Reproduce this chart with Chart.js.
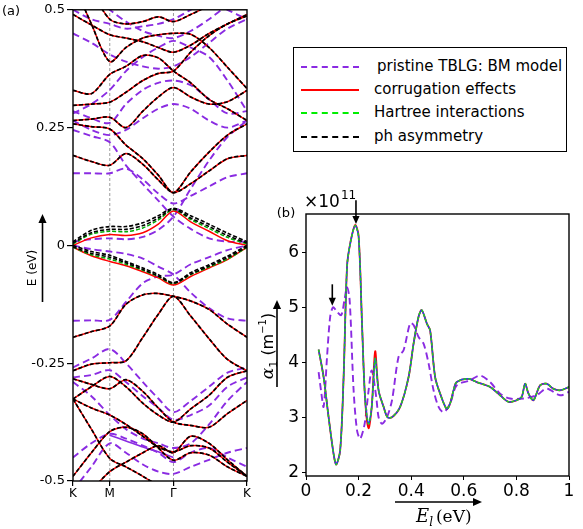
<!DOCTYPE html>
<html>
<head>
<meta charset="utf-8">
<script src="https://cdn.jsdelivr.net/npm/chart.js@4.4.0/dist/chart.umd.min.js"></script>
<style>
  body { margin: 0; background: #fff; width: 583px; height: 529px; position: relative; overflow: hidden; font-family: 'DejaVu Sans', sans-serif; }
  .box { position: absolute; }
  #legend { position: absolute; left: 293px; top: 47px; width: 272px; height: 103px; border: 1.5px solid #000; background: #fff; }
  .row { position: absolute; left: 0; height: 20px; font-size: 15px; color: #000; white-space: nowrap; }
  .row span.line { position: absolute; left: 7px; top: 10px; width: 58px; height: 0; }
  .row span.txt { position: absolute; left: 80px; top: 0; line-height: 20px; }
</style>
</head>
<body>
<div class="box" style="left:0;top:0;width:262px;height:529px"><canvas id="bands-chart"></canvas></div>
<div class="box" style="left:250px;top:180px;width:333px;height:349px"><canvas id="absorption-chart"></canvas></div>
<div id="legend">
  <div class="row" style="top:8px"><span class="line" style="border-top:2px dashed #8a2be2"></span><span class="txt" style="left:83px">pristine TBLG: BM model</span></div>
  <div class="row" style="top:31px"><span class="line" style="border-top:2px solid #ff0000"></span><span class="txt">corrugation effects</span></div>
  <div class="row" style="top:54px"><span class="line" style="border-top:2px dashed #00ee00"></span><span class="txt">Hartree interactions</span></div>
  <div class="row" style="top:78px"><span class="line" style="border-top:2px dashed #000"></span><span class="txt">ph asymmetry</span></div>
</div>
<script>
// ---- panel (a): band structure, energies (eV) sampled along K-M-Γ-K ----
const kPath = [0, 0.25, 0.5, 0.72, 0.95, 1.16, 1.366, 1.6, 1.85, 2.1, 2.366];
const kTicks = [0, 0.5, 1.366, 2.366];
const kLabels = ['K', 'M', 'Γ', 'K'];

// flat bands near zero (differ between models)
const blackFlatUpA = [0.008, 0.032, 0.040, 0.040, 0.048, 0.063, 0.079, 0.063, 0.045, 0.026, 0.008];
const blackFlatUpB = [0.005, 0.027, 0.034, 0.034, 0.042, 0.058, 0.077, 0.058, 0.040, 0.021, 0.005];
const greenFlatUp = [0.003, 0.024, 0.030, 0.029, 0.037, 0.054, 0.076, 0.055, 0.036, 0.017, 0.003];
const redFlatUp = [0.000, 0.016, 0.023, 0.021, 0.027, 0.045, 0.073, 0.050, 0.030, 0.010, 0.000];
const blackFlatDnA = [0.000, -0.013, -0.021, -0.034, -0.048, -0.062, -0.079, -0.058, -0.041, -0.023, 0.000];
const blackFlatDnB = [-0.003, -0.017, -0.025, -0.037, -0.051, -0.065, -0.080, -0.061, -0.044, -0.026, -0.003];
const greenFlatDn = [-0.004, -0.020, -0.029, -0.040, -0.053, -0.066, -0.081, -0.062, -0.046, -0.029, -0.004];
const redFlatDn = [-0.004, -0.022, -0.034, -0.043, -0.056, -0.069, -0.084, -0.066, -0.048, -0.030, -0.004];

// remote bands (corrugation / Hartree / ph asymmetry nearly coincide)
const bandC1 = [0.191, 0.178, 0.170, 0.195, 0.172, 0.139, 0.112, 0.131, 0.158, 0.184, 0.191];
const bandC2 = [0.258, 0.252, 0.247, 0.213, 0.184, 0.149, 0.112, 0.156, 0.198, 0.234, 0.258];
const bandD = [0.297, 0.300, 0.304, 0.325, 0.350, 0.365, 0.370, 0.410, 0.445, 0.470, 0.487];
const bandE = [0.329, 0.322, 0.363, 0.380, 0.403, 0.398, 0.370, 0.345, 0.310, 0.290, 0.265];
const bandF = [0.265, 0.268, 0.272, 0.250, 0.285, 0.315, 0.335, 0.315, 0.300, 0.305, 0.329];
const bandG = [0.490, 0.468, 0.447, 0.440, 0.432, 0.420, 0.410, 0.425, 0.450, 0.470, 0.490];
const bandH = [0.560, 0.470, 0.390, 0.420, 0.440, 0.447, 0.450, 0.448, 0.420, 0.378, 0.333];
const bandI = [0.600, 0.540, 0.480, 0.470, 0.475, 0.485, 0.475, 0.490, 0.510, 0.540, 0.560];
const bandV1 = [-0.195, -0.183, -0.171, -0.125, -0.105, -0.102, -0.108, -0.118, -0.136, -0.167, -0.195];
const bandV2 = [-0.266, -0.252, -0.249, -0.245, -0.195, -0.146, -0.108, -0.150, -0.198, -0.242, -0.266];
const bandV3 = [-0.283, -0.295, -0.304, -0.285, -0.310, -0.345, -0.375, -0.382, -0.386, -0.357, -0.329];
const bandV4 = [-0.326, -0.300, -0.278, -0.300, -0.335, -0.360, -0.375, -0.347, -0.318, -0.280, -0.266];
const bandV5 = [-0.326, -0.345, -0.360, -0.380, -0.405, -0.428, -0.438, -0.425, -0.430, -0.460, -0.490];
const bandV6 = [-0.326, -0.390, -0.452, -0.470, -0.490, -0.510, -0.530, -0.530, -0.520, -0.510, -0.500];
const bandV7 = [-0.490, -0.440, -0.395, -0.386, -0.400, -0.430, -0.456, -0.440, -0.445, -0.470, -0.490];
const bandV8 = [-0.560, -0.520, -0.480, -0.460, -0.440, -0.425, -0.440, -0.405, -0.420, -0.455, -0.490];

// pristine BM model bands
const bmF1 = [0.008, 0.013, 0.015, 0.013, 0.018, 0.033, 0.061, 0.120, 0.180, 0.230, 0.265];
const bmX1 = [0.245, 0.232, 0.219, 0.170, 0.130, 0.095, 0.061, 0.035, 0.015, 0.008, 0.008];
const bmF2 = [0.000, -0.008, -0.013, -0.018, -0.028, -0.045, -0.062, -0.100, -0.133, -0.155, -0.160];
const bmV1 = [-0.160, -0.159, -0.158, -0.120, -0.080, -0.066, -0.062, -0.040, -0.025, -0.010, 0.000];
const bmC1 = [0.153, 0.153, 0.153, 0.163, 0.140, 0.110, 0.089, 0.105, 0.125, 0.145, 0.153];
const bmU1 = [0.285, 0.270, 0.260, 0.300, 0.330, 0.345, 0.350, 0.340, 0.310, 0.280, 0.285];
const bmU2 = [0.265, 0.245, 0.234, 0.245, 0.270, 0.290, 0.300, 0.290, 0.265, 0.250, 0.265];
const bmU3 = [0.280, 0.300, 0.330, 0.370, 0.400, 0.420, 0.434, 0.420, 0.400, 0.350, 0.285];
const bmU4 = [0.450, 0.430, 0.405, 0.390, 0.380, 0.375, 0.380, 0.400, 0.430, 0.460, 0.480];
const bmU5 = [0.500, 0.480, 0.470, 0.460, 0.465, 0.470, 0.480, 0.500, 0.520, 0.500, 0.480];
const bmU6 = [0.560, 0.530, 0.500, 0.475, 0.455, 0.445, 0.440, 0.455, 0.480, 0.510, 0.540];
const bmL1 = [-0.259, -0.240, -0.220, -0.250, -0.290, -0.325, -0.354, -0.330, -0.300, -0.270, -0.259];
const bmL2 = [-0.280, -0.275, -0.265, -0.290, -0.320, -0.345, -0.370, -0.360, -0.340, -0.300, -0.280];
const bmL3 = [-0.290, -0.320, -0.360, -0.390, -0.410, -0.420, -0.430, -0.420, -0.380, -0.330, -0.290];
const bmL4 = [-0.450, -0.420, -0.400, -0.410, -0.425, -0.440, -0.460, -0.440, -0.430, -0.450, -0.470];
const bmL5 = [-0.520, -0.470, -0.420, -0.440, -0.465, -0.480, -0.485, -0.470, -0.455, -0.440, -0.430];
const bmSolid = [null, null, -0.403, -0.415, -0.428, -0.438, -0.450, null, null, null, null];

// ---- panel (b): absorption coefficient (x 10^11 m^-1) vs photon energy (eV) ----
const absE = [0.048, 0.067, 0.086, 0.105, 0.115, 0.13, 0.143, 0.156, 0.168, 0.187, 0.2, 0.213, 0.225, 0.238, 0.25, 0.263, 0.276, 0.295, 0.31, 0.327, 0.358, 0.39, 0.409, 0.428, 0.44, 0.46, 0.472, 0.491, 0.51, 0.535, 0.548, 0.561, 0.573, 0.618, 0.649, 0.7, 0.738, 0.77, 0.801, 0.82, 0.833, 0.846, 0.865, 0.89, 0.915, 0.94, 0.966, 1.0];
const absHartree = [4.23, 3.73, 3.0, 2.33, 2.14, 2.4, 3.73, 5.74, 6.16, 6.49, 6.29, 4.7, 3.31, 2.88, 3.19, 4.07, 3.49, 3.19, 3.0, 3.0, 3.19, 3.73, 4.34, 4.83, 4.95, 4.7, 4.58, 3.73, 3.43, 3.15, 3.25, 3.49, 3.64, 3.7, 3.64, 3.55, 3.4, 3.28, 3.31, 3.37, 3.61, 3.43, 3.31, 3.58, 3.61, 3.52, 3.49, 3.55];
const absCorr = [4.23, 3.73, 3.0, 2.33, 2.14, 2.4, 3.73, 5.74, 6.16, 6.5, 6.3, 4.7, 3.31, 2.8, 3.19, 4.2, 3.49, 3.19, 3.0, 3.0, 3.19, 3.73, 4.34, 4.83, 4.95, 4.7, 4.58, 3.73, 3.43, 3.15, 3.25, 3.49, 3.64, 3.7, 3.64, 3.55, 3.4, 3.28, 3.31, 3.37, 3.61, 3.43, 3.31, 3.58, 3.61, 3.52, 3.49, 3.55];
const bmE = [0.048, 0.057, 0.067, 0.08, 0.092, 0.103, 0.118, 0.134, 0.146, 0.156, 0.166, 0.181, 0.194, 0.206, 0.223, 0.238, 0.25, 0.267, 0.276, 0.289, 0.308, 0.327, 0.352, 0.371, 0.396, 0.409, 0.428, 0.447, 0.466, 0.485, 0.504, 0.523, 0.548, 0.573, 0.623, 0.662, 0.7, 0.738, 0.776, 0.827, 0.877, 0.915, 0.966, 1.0];
const absBM = [3.82, 3.49, 3.19, 4.1, 4.83, 5.0, 4.92, 4.86, 5.13, 5.37, 5.13, 3.49, 2.76, 2.61, 2.88, 3.49, 3.85, 3.37, 3.0, 2.88, 3.0, 3.31, 4.1, 4.22, 4.71, 4.68, 4.46, 4.34, 3.98, 3.49, 3.19, 3.09, 3.25, 3.58, 3.67, 3.76, 3.64, 3.43, 3.34, 3.34, 3.4, 3.52, 3.4, 3.46];
const arrowE = [0.1, 0.19];
const arrowFrom = [5.42, 6.95];
const arrowTo = [5.03, 6.52];

const PURPLE = '#8a2be2';
const FONT = "'DejaVu Sans', sans-serif";

document.addEventListener('DOMContentLoaded', function() {
    Chart.defaults.animation = false;
    drawBands();
    drawAbsorption();
});

function bandSet(band, color, width, dash, order) {
    return {
        data: kPath.map((k, i) => ({ x: k, y: band[i] })),
        borderColor: color,
        borderWidth: width,
        borderDash: dash,
        pointRadius: 0,
        tension: 0.3,
        fill: false,
        spanGaps: false,
        order: order
    };
}

function drawArrow(ctx, x1, y1, x2, y2, head) {
    const a = Math.atan2(y2 - y1, x2 - x1);
    ctx.save();
    ctx.strokeStyle = '#000';
    ctx.fillStyle = '#000';
    ctx.lineWidth = 1.6;
    ctx.beginPath();
    ctx.moveTo(x1, y1);
    ctx.lineTo(x2 - Math.cos(a) * head * 0.8, y2 - Math.sin(a) * head * 0.8);
    ctx.stroke();
    ctx.beginPath();
    ctx.moveTo(x2, y2);
    ctx.lineTo(x2 - head * Math.cos(a) + head * 0.45 * Math.sin(a), y2 - head * Math.sin(a) - head * 0.45 * Math.cos(a));
    ctx.lineTo(x2 - head * Math.cos(a) - head * 0.45 * Math.sin(a), y2 - head * Math.sin(a) + head * 0.45 * Math.cos(a));
    ctx.closePath();
    ctx.fill();
    ctx.restore();
}

const framePlugin = {
    id: 'frame',
    afterDatasetsDraw(chart) {
        const a = chart.chartArea;
        const ctx = chart.ctx;
        ctx.save();
        ctx.strokeStyle = '#000';
        ctx.lineWidth = 1.4;
        ctx.strokeRect(a.left, a.top, a.right - a.left, a.bottom - a.top);
        ctx.restore();
    }
};

function drawBands() {
    const datasets = [];
    // vertical guides at M and Γ
    [kTicks[1], kTicks[2]].forEach(k => {
        datasets.push({
            data: [{ x: k, y: -0.5 }, { x: k, y: 0.5 }],
            borderColor: '#9a9a9a', borderWidth: 1, borderDash: [3, 2],
            pointRadius: 0, order: 5
        });
    });
    [bmF1, bmX1, bmF2, bmV1, bmC1, bmU1, bmU2, bmU3, bmU4, bmU5, bmU6, bmL1, bmL2, bmL3, bmL4, bmL5].forEach(b => {
        datasets.push(bandSet(b, PURPLE, 1.9, [7, 4], 4));
    });
    datasets.push(bandSet(bmSolid, PURPLE, 1.6, [], 4));

    const remote = [bandC1, bandC2, bandD, bandE, bandF, bandG, bandH, bandI,
        bandV1, bandV2, bandV3, bandV4, bandV5, bandV6, bandV7, bandV8];
    remote.forEach(b => {
        datasets.push(bandSet(b, '#ff0000', 1.5, [], 2));
        datasets.push(bandSet(b, '#000000', 1.7, [4, 2], 0));
    });
    datasets.push(bandSet(redFlatUp, '#ff0000', 1.5, [], 2));
    datasets.push(bandSet(redFlatDn, '#ff0000', 1.5, [], 2));
    datasets.push(bandSet(greenFlatUp, '#00aa00', 1.5, [4, 2], 1));
    datasets.push(bandSet(greenFlatDn, '#00aa00', 1.5, [4, 2], 1));
    [blackFlatUpA, blackFlatUpB, blackFlatDnA, blackFlatDnB].forEach(b => {
        datasets.push(bandSet(b, '#000000', 1.6, [4, 2], 0));
    });

    const decor = {
        id: 'decorA',
        afterDraw(chart) {
            const ctx = chart.ctx;
            ctx.save();
            ctx.fillStyle = '#000';
            ctx.font = '13px ' + FONT;
            ctx.textAlign = 'center';
            ctx.textBaseline = 'middle';
            ctx.fillText('(a)', 11, 12);
            ctx.translate(33, 268);
            ctx.rotate(-Math.PI / 2);
            ctx.font = '12px ' + FONT;
            ctx.fillText('E (eV)', 0, 0);
            ctx.restore();
            drawArrow(ctx, 42.5, 302, 42.5, 214, 9);
        }
    };

    new Chart(document.getElementById('bands-chart'), {
        type: 'line',
        data: { datasets: datasets },
        options: {
            responsive: true,
            maintainAspectRatio: false,
            layout: { padding: { left: 0, top: 7, right: 15, bottom: 0 } },
            plugins: { legend: { display: false }, tooltip: { enabled: false } },
            scales: {
                x: {
                    type: 'linear', min: 0, max: kTicks[3],
                    afterBuildTicks: s => { s.ticks = kTicks.map(v => ({ value: v })); },
                    afterFit: s => { s.height = 48; },
                    ticks: {
                        autoSkip: false, maxRotation: 0, padding: 1, color: '#000',
                        font: { family: FONT, size: 12 },
                        callback: (v, i) => kLabels[i]
                    },
                    grid: { drawOnChartArea: false, drawTicks: true, tickLength: 5, color: '#000', lineWidth: 1.2 },
                    border: { display: false }
                },
                y: {
                    min: -0.5, max: 0.5,
                    afterFit: s => { s.width = 73; },
                    ticks: {
                        stepSize: 0.25, padding: 2, color: '#000',
                        font: { family: FONT, size: 13 },
                        callback: v => String(v)
                    },
                    grid: { drawOnChartArea: false, drawTicks: true, tickLength: 6, color: '#000', lineWidth: 1.2 },
                    border: { display: false }
                }
            }
        },
        plugins: [framePlugin, decor]
    });
}

function drawAbsorption() {
    const toPts = (xs, ys) => xs.map((x, i) => ({ x: x, y: ys[i] }));
    const lineSet = (pts, color, width, dash, order) => ({
        data: pts, borderColor: color, borderWidth: width, borderDash: dash,
        pointRadius: 0, tension: 0.3, fill: false, order: order
    });

    const decor = {
        id: 'decorB',
        afterDraw(chart) {
            const ctx = chart.ctx;
            const xs = chart.scales.x, ys = chart.scales.y;
            ctx.save();
            ctx.fillStyle = '#000';
            ctx.textBaseline = 'alphabetic';
            ctx.font = '13px ' + FONT;
            ctx.textAlign = 'center';
            ctx.fillText('(b)', 36, 37);
            // multiplier
            ctx.textAlign = 'left';
            ctx.font = '17px ' + FONT;
            ctx.fillText('×10', 54, 27);
            const w = ctx.measureText('×10').width;
            ctx.font = '12px ' + FONT;
            ctx.fillText('11', 54 + w + 1, 19);
            // x title
            ctx.font = 'italic 18px "DejaVu Serif", serif';
            ctx.fillText('E', 166, 342);
            let x = 166 + ctx.measureText('E').width;
            ctx.font = 'italic 12px "DejaVu Serif", serif';
            ctx.fillText('l', x, 346);
            x += ctx.measureText('l').width + 3;
            ctx.font = '17px "DejaVu Serif", serif';
            ctx.fillText('(eV)', x, 342);
            // y title, rotated
            ctx.translate(17, 166);
            ctx.rotate(-Math.PI / 2);
            const parts = [
                ['α', 'italic 17px "DejaVu Serif", serif', 0],
                ['1', '11px ' + FONT, 4],
                [' (m', '16px ' + FONT, 0],
                ['−1', '10px ' + FONT, -7],
                [')', '16px ' + FONT, 0]
            ];
            let total = 0;
            parts.forEach(p => { ctx.font = p[1]; total += ctx.measureText(p[0]).width; });
            let px = -total / 2;
            parts.forEach(p => {
                ctx.font = p[1];
                ctx.fillText(p[0], px, 6 + p[2]);
                px += ctx.measureText(p[0]).width;
            });
            ctx.restore();
            drawArrow(ctx, 27, 207, 27, 120, 9);
            drawArrow(ctx, 145, 322, 232, 322, 9);
            arrowE.forEach((e, i) => {
                const ax = xs.getPixelForValue(e);
                drawArrow(ctx, ax, ys.getPixelForValue(arrowFrom[i]), ax, ys.getPixelForValue(arrowTo[i]), 8);
            });
        }
    };

    new Chart(document.getElementById('absorption-chart'), {
        type: 'line',
        data: {
            datasets: [
                lineSet(toPts(bmE, absBM), PURPLE, 1.9, [7, 4], 3),
                lineSet(toPts(absE, absCorr), '#ff0000', 1.8, [], 2),
                lineSet(toPts(absE, absHartree), '#1f3fff', 1.4, [], 1),
                lineSet(toPts(absE, absHartree), '#22cc22', 1.6, [3, 2], 0)
            ]
        },
        options: {
            responsive: true,
            maintainAspectRatio: false,
            layout: { padding: { left: 0, top: 34, right: 14, bottom: 0 } },
            plugins: { legend: { display: false }, tooltip: { enabled: false } },
            scales: {
                x: {
                    type: 'linear', min: 0, max: 1,
                    afterFit: s => { s.height = 53; },
                    ticks: {
                        stepSize: 0.2, padding: 1, color: '#000', maxRotation: 0,
                        font: { family: FONT, size: 17 },
                        callback: v => (v === 0 ? '0' : v === 1 ? '1' : v.toFixed(1))
                    },
                    grid: { drawOnChartArea: false, drawTicks: true, tickLength: 4, color: '#000' },
                    border: { display: false }
                },
                y: {
                    min: 1.93, max: 6.7,
                    afterFit: s => { s.width = 56; },
                    ticks: {
                        stepSize: 1, includeBounds: false, padding: 3, color: '#000',
                        font: { family: FONT, size: 17 }
                    },
                    grid: { drawOnChartArea: false, drawTicks: true, tickLength: 4, color: '#000' },
                    border: { display: false }
                }
            }
        },
        plugins: [framePlugin, decor]
    });
}
</script>
</body>
</html>
